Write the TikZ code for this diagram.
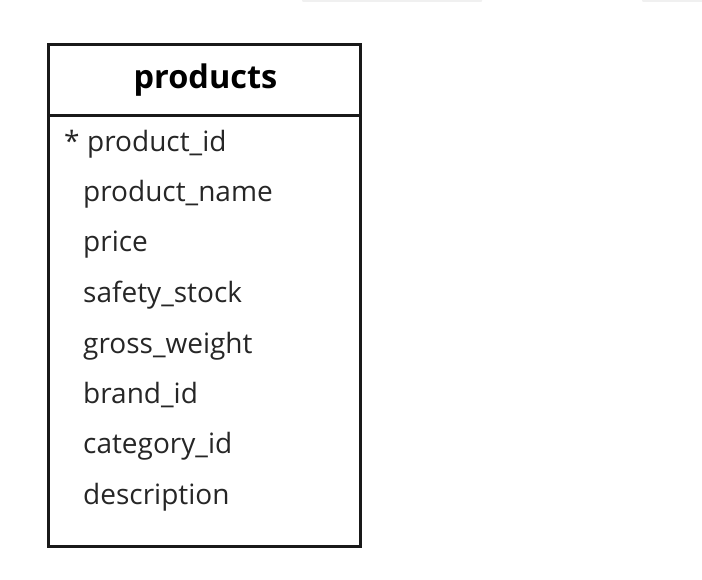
\documentclass[tikz,border=0pt]{standalone}
\usepackage{fontspec}
\setmainfont{Open Sans}
\begin{document}
\begin{tikzpicture}[x=1pt,y=-1pt,
  field/.style={anchor=base west, inner sep=0pt, font=\fontsize{28}{31}\selectfont, text=black!85},
  title/.style={anchor=base, inner sep=0pt, font=\fontsize{32.5}{36}\selectfont\bfseries},
  frame/.style={draw=black!90, line width=3pt},
  strip/.style={fill=black!6, draw=none, rounded corners=1pt}]
\useasboundingbox (0,0) rectangle (702,580);
\fill[strip] (302,-2) rectangle (482,2);
\fill[strip] (642,-2) rectangle (704,2);
\draw[frame] (48.5,44.5) rectangle (360,546.5);
\draw[frame] (48.5,116) -- (360,116);
\node[title] (t) at (205.5,89) {products};
\node[field] (pk) at (64,152) {*};
\node[field] (f1) at (87,152) {product\_id};
\node[field] (f2) at (83,202) {product\_name};
\node[field] (f3) at (83,252) {price};
\node[field] (f4) at (83,302) {safety\_stock};
\node[field] (f5) at (83,353) {gross\_weight};
\node[field] (f6) at (83,403) {brand\_id};
\node[field] (f7) at (83,453) {category\_id};
\node[field] (f8) at (83,504) {description};
\end{tikzpicture}
\end{document}
